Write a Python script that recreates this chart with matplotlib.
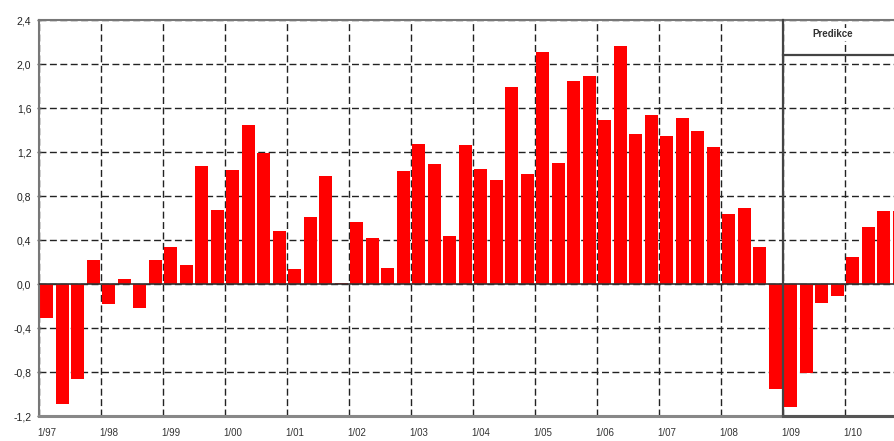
import matplotlib
matplotlib.use("Agg")
import matplotlib.pyplot as plt
import numpy as np

# Quarterly values 1997Q1 .. 2010Q4
values = [
    -0.31, -1.09, -0.86, 0.22,   # 1997
    -0.18, 0.05, -0.22, 0.22,    # 1998
    0.34, 0.17, 1.07, 0.67,      # 1999
    1.04, 1.45, 1.19, 0.48,      # 2000
    0.14, 0.61, 0.98, 0.01,      # 2001
    0.56, 0.42, 0.15, 1.03,      # 2002
    1.27, 1.09, 0.44, 1.26,      # 2003
    1.05, 0.95, 1.79, 1.00,      # 2004
    2.11, 1.10, 1.85, 1.89,      # 2005
    1.49, 2.16, 1.36, 1.54,      # 2006
    1.35, 1.51, 1.39, 1.25,      # 2007
    0.64, 0.69, 0.34, -0.95,     # 2008
    -1.12, -0.81, -0.17, -0.11,  # 2009
    0.25, 0.52, 0.66, 0.66,      # 2010
]
year_labels = ["1/97", "1/98", "1/99", "1/00", "1/01", "1/02", "1/03",
               "1/04", "1/05", "1/06", "1/07", "1/08", "1/09", "1/10"]
y_ticks = [-1.2, -0.8, -0.4, 0.0, 0.4, 0.8, 1.2, 1.6, 2.0, 2.4]
y_labels = ["-1,2", "-0,8", "-0,4", "0,0", "0,4", "0,8", "1,2", "1,6", "2,0", "2,4"]
prediction_label = "Predikce"
prediction_start = 48  # index of 2009Q1

plt.rcParams['font.family'] = ['Liberation Sans Narrow', 'Liberation Sans', 'DejaVu Sans']

fig = plt.figure(figsize=(8.95, 4.41), dpi=100)
ax = fig.add_axes([39/895, 25/441, 856/895, 396/441])

x = np.arange(len(values))
ax.bar(x, values, width=0.84, color="#ff0000", zorder=2)

xmax = (895 - 39) / 15.5 - 0.5
ax.set_xlim(-0.5, xmax)
ax.set_ylim(-1.2, 2.4)

# major ticks: labels under first quarter of each year
ax.set_xticks(x[::4][:len(year_labels)])
ax.set_xticklabels(year_labels, fontsize=7, color="#333333")
ax.tick_params(axis="x", which="major", length=0, pad=9)
# minor ticks: year boundaries with gridlines
ax.set_xticks(np.arange(len(year_labels)) * 4 - 0.5, minor=True)
ax.tick_params(axis="x", which="minor", length=0)
ax.grid(axis="x", which="minor", color="#222222", linestyle=(0, (5, 2.5)), linewidth=1.0, zorder=1)

ax.set_yticks(y_ticks)
ax.set_yticklabels(y_labels, fontsize=7.5, color="#222222", family=['Liberation Sans', 'DejaVu Sans'])
ax.tick_params(axis="y", length=3, width=1, color="#555555", pad=4, direction="inout")
ax.grid(axis="y", which="major", color="#222222", linestyle=(0, (5, 2.5)), linewidth=1.0, zorder=1)
ax.set_axisbelow(True)

ax.axhline(0, color="#333333", linewidth=1.2, zorder=3)

for s in ["left", "top"]:
    ax.spines[s].set_color("#777777")
    ax.spines[s].set_linewidth(1.5)
ax.spines["bottom"].set_color("#888888")
ax.spines["bottom"].set_linewidth(2.2)
ax.spines["right"].set_visible(False)

# prediction box
px = prediction_start - 0.5
ax.plot([px, px], [-1.2, 2.4], color="#444444", linewidth=1.6, zorder=4, clip_on=False)
ax.plot([px, xmax], [2.08, 2.08], color="#444444", linewidth=1.6, zorder=4, clip_on=False)
ax.plot([px, xmax], [-1.2, -1.2], color="#555555", linewidth=2.2, zorder=4, clip_on=False)
ax.text(50.7, 2.27, prediction_label, fontsize=7, fontweight="bold", color="#333333",
        ha="center", va="center", zorder=5,
        bbox=dict(facecolor="white", edgecolor="none", pad=1))

fig.savefig("out.png", dpi=100)
